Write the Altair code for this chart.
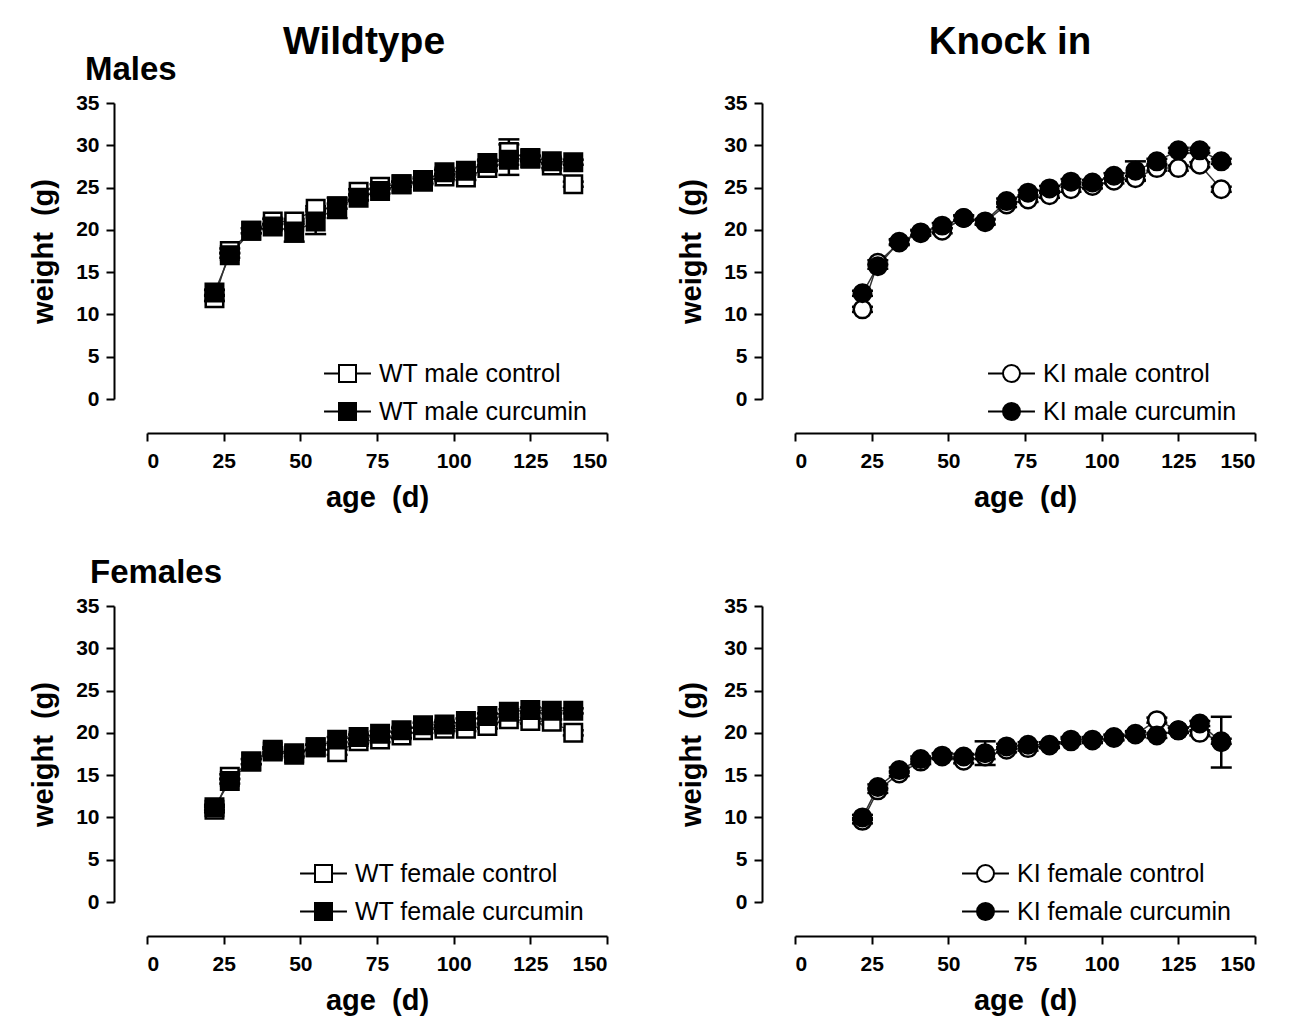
import altair as alt
import pandas as pd

FONT = "Liberation Sans"

ages = [22, 27, 34, 41, 48, 55, 62, 69, 76, 83, 90, 97, 104, 111, 118, 125, 132, 139]

wt_male_control = [11.9, 17.5, 19.9, 21.0, 21.0, 22.5, 22.6, 24.5, 25.1, 25.4, 25.7, 26.3, 26.2, 27.3, 29.2, 28.4, 27.6, 25.4]
wt_male_curcumin = [12.6, 17.0, 19.9, 20.4, 19.8, 21.0, 22.8, 23.8, 24.6, 25.4, 25.9, 26.8, 27.0, 27.9, 28.3, 28.5, 28.1, 28.0]
wt_male_control_sem = [0.3, 0.3, 0.3, 0.3, 0.3, 0.3, 1.2, 0.3, 0.3, 0.3, 0.3, 0.3, 0.3, 0.3, 1.5, 0.3, 0.3, 0.3]
wt_male_curcumin_sem = [0.3, 0.3, 0.3, 0.3, 1.2, 1.5, 0.3, 0.3, 0.3, 0.3, 0.3, 0.3, 0.3, 0.3, 1.8, 0.3, 0.3, 0.3]

ki_male_control = [10.6, 16.1, 18.5, 19.6, 19.9, 21.4, 20.9, 23.0, 23.6, 24.1, 24.8, 25.2, 25.8, 26.1, 27.3, 27.3, 27.7, 24.8]
ki_male_curcumin = [12.5, 15.7, 18.6, 19.7, 20.5, 21.4, 21.0, 23.4, 24.4, 24.9, 25.7, 25.6, 26.4, 27.0, 28.1, 29.4, 29.4, 28.1]
ki_male_control_sem = [0.3] * 18
ki_male_curcumin_sem = [0.3, 0.3, 0.3, 0.3, 0.3, 0.3, 0.3, 0.3, 0.3, 0.3, 0.3, 0.3, 0.3, 1.1, 0.3, 0.3, 0.3, 0.3]

wt_female_control = [10.9, 14.8, 16.6, 18.0, 17.6, 18.3, 17.7, 19.0, 19.2, 19.7, 20.3, 20.5, 20.5, 20.8, 21.6, 21.4, 21.3, 20.0]
wt_female_curcumin = [11.2, 14.3, 16.6, 17.8, 17.4, 18.3, 19.2, 19.5, 19.9, 20.3, 20.9, 21.0, 21.4, 22.0, 22.5, 22.7, 22.6, 22.6]
wt_female_control_sem = [0.3] * 18
wt_female_curcumin_sem = [0.3] * 18

ki_female_control = [9.6, 13.2, 15.2, 16.6, 17.3, 16.7, 17.2, 18.0, 18.2, 18.5, 19.0, 19.1, 19.4, 19.8, 21.5, 20.3, 20.0, 19.0]
ki_female_curcumin = [10.0, 13.6, 15.6, 16.9, 17.2, 17.2, 17.6, 18.4, 18.6, 18.6, 19.2, 19.2, 19.5, 19.9, 19.7, 20.3, 21.1, 18.9]
ki_female_control_sem = [0.3] * 18
ki_female_curcumin_sem = [0.3, 0.3, 0.3, 0.3, 0.3, 0.3, 1.4, 0.3, 0.3, 0.3, 0.3, 0.3, 0.3, 0.3, 0.3, 0.3, 0.3, 3.0]

x_ticks = [0, 25, 50, 75, 100, 125, 150]
y_ticks = [0, 5, 10, 15, 20, 25, 30, 35]

SQUARE_PATH = "M-2.76,0H-1M-1,-1H1V1H-1ZM1,0H2.76"
CIRCLE_PATH = "M-2.76,0H-1M1,0H2.76M-1,0A1,1,0,1,0,1,0A1,1,0,1,0,-1,0Z"


def make_panel(ctrl, cur, ctrl_sem, cur_sem, names, shape, path, leg_x, leg_y, title=None):
    rows = []
    for k, (vals, sems, name) in enumerate([(ctrl, ctrl_sem, names[0]), (cur, cur_sem, names[1])]):
        for a, v, s in zip(ages, vals, sems):
            rows.append({"age": a, "weight": v, "sem": s, "series": name, "ord": k})
    df = pd.DataFrame(rows)

    xenc = alt.X(
        "age:Q",
        scale=alt.Scale(domain=[0, 150], nice=False),
        axis=alt.Axis(values=x_ticks, title="age\u00a0 (d)", offset=34, labelPadding=9, titlePadding=12),
    )
    yscale = alt.Scale(domain=[0, 35], nice=False)
    yaxis = alt.Axis(values=y_ticks, title="weight\u00a0 (g)", offset=33, labelPadding=7, titlePadding=17)

    base = alt.Chart(df).transform_calculate(
        lo="datum.weight - datum.sem", hi="datum.weight + datum.sem"
    )
    line = base.mark_line(color="#333333", strokeWidth=1.5).encode(
        x=xenc, y=alt.Y("weight:Q", scale=yscale, axis=yaxis), detail="series:N"
    )
    rule = base.mark_rule(color="black", strokeWidth=2.5).encode(
        x=xenc,
        y=alt.Y("lo:Q", scale=yscale, axis=yaxis),
        y2="hi:Q",
    )
    cap_lo = base.mark_tick(color="black", size=21, thickness=2.5, orient="horizontal", opacity=1).encode(
        x=xenc, y=alt.Y("lo:Q", scale=yscale, axis=yaxis)
    )
    cap_hi = base.mark_tick(color="black", size=21, thickness=2.5, orient="horizontal", opacity=1).encode(
        x=xenc, y=alt.Y("hi:Q", scale=yscale, axis=yaxis)
    )
    points = base.mark_point(
        shape=shape, filled=True, size=306, stroke="black", strokeWidth=2.5, opacity=1
    ).encode(
        x=xenc,
        y=alt.Y("weight:Q", scale=yscale, axis=yaxis),
        fill=alt.Fill(
            "series:N",
            scale=alt.Scale(domain=names, range=["white", "black"]),
            legend=alt.Legend(
                title=None,
                orient="none",
                legendX=leg_x,
                legendY=leg_y,
                direction="vertical",
                symbolType=path,
                symbolSize=289,
                symbolStrokeColor="black",
                symbolStrokeWidth=2,
                symbolOpacity=1,
                labelFont=FONT,
                labelFontSize=25,
                labelColor="black",
                labelOffset=19,
                labelLimit=600,
                rowPadding=12,
                padding=0,
            ),
        ),
        order=alt.Order("ord:Q"),
    )
    layer = alt.layer(line, rule, cap_lo, cap_hi, points).properties(width=460, height=296)
    if title is not None:
        layer = layer.properties(title=title)
    return layer


tl = make_panel(
    wt_male_control, wt_male_curcumin, wt_male_control_sem, wt_male_curcumin_sem,
    ["WT male control", "WT male curcumin"], "square", SQUARE_PATH, 188, 258,
    alt.Title("Males", anchor="start", frame="group", dx=-62, fontSize=33, baseline="alphabetic", offset=-21),
)
tr = make_panel(
    ki_male_control, ki_male_curcumin, ki_male_control_sem, ki_male_curcumin_sem,
    ["KI male control", "KI male curcumin"], "circle", CIRCLE_PATH, 204, 258,
    alt.Title("Knock in", anchor="middle", frame="group", dx=-15, fontSize=38.5, baseline="alphabetic", offset=0),
)
bl = make_panel(
    wt_female_control, wt_female_curcumin, wt_female_control_sem, wt_female_curcumin_sem,
    ["WT female control", "WT female curcumin"], "square", SQUARE_PATH, 164, 255,
    alt.Title("Females", anchor="start", frame="group", dx=-57, fontSize=33, baseline="alphabetic", offset=-21),
)
br = make_panel(
    ki_female_control, ki_female_curcumin, ki_female_control_sem, ki_female_curcumin_sem,
    ["KI female control", "KI female curcumin"], "circle", CIRCLE_PATH, 178, 255,
)

chart = (
    alt.concat(
        tl, tr, bl, br, columns=2, spacing={"row": 207, "column": 188}, bounds="flush",
        title=alt.Title("Wildtype", anchor="start", align="center", frame="group", dx=217, fontSize=39,
                        baseline="alphabetic", offset=0, dy=70),
    )
    .resolve_scale(fill="independent")
    .resolve_legend(fill="independent")
    .properties(
        padding={"left": 21, "top": 14, "right": 5, "bottom": 5},
        background="white",
    )
    .configure_axis(
        domainColor="black", domainWidth=2, tickColor="black", tickWidth=2, tickSize=8,
        labelFont=FONT, labelFontSize=21, labelFontWeight="bold", labelColor="black",
        titleFont=FONT, titleFontSize=29, titleFontWeight="bold", titleColor="black",
        grid=False,
    )
    .configure_view(stroke=None)
    .configure_title(font=FONT, fontWeight="bold", color="black")
)

chart.save("out.html", embed_options={"renderer": "svg", "actions": False})
